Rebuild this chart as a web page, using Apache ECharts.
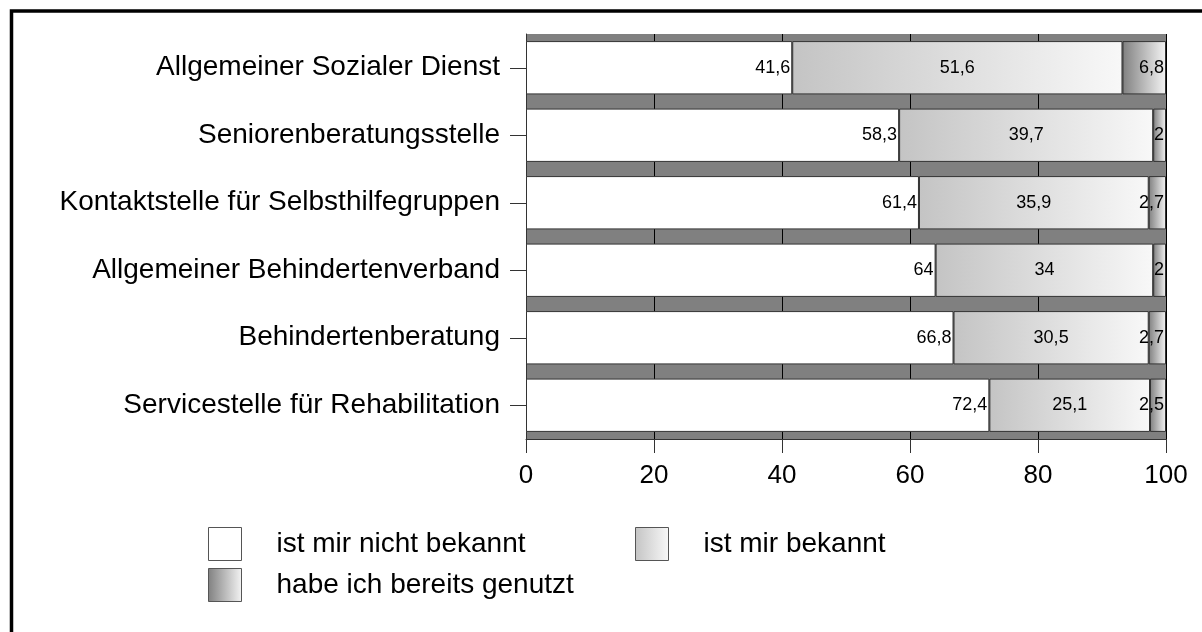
<!DOCTYPE html>
<html>
<head>
<meta charset="utf-8">
<script src="https://cdn.jsdelivr.net/npm/echarts@6/dist/echarts.min.js"></script>
<style>
  html, body { margin: 0; padding: 0; background: #fff; }
  #main { width: 1202px; height: 632px; }
</style>
</head>
<body>
<div id="main"></div>
<script>
var myChart = echarts.init(document.getElementById('main'));

// Einrichtungen (von oben nach unten)
var categories = [
    'Allgemeiner Sozialer Dienst',
    'Seniorenberatungsstelle',
    'Kontaktstelle für Selbsthilfegruppen',
    'Allgemeiner Behindertenverband',
    'Behindertenberatung',
    'Servicestelle für Rehabilitation'
];
var nichtBekannt = [41.6, 58.3, 61.4, 64, 66.8, 72.4];
var bekannt = [51.6, 39.7, 35.9, 34, 30.5, 25.1];
var genutzt = [6.8, 2, 2.7, 2, 2.7, 2.5];
var xTicks = [0, 20, 40, 60, 80, 100];

var fontFam = '"Liberation Sans", Arial, sans-serif';

function grad(c0, c1) {
    return new echarts.graphic.LinearGradient(0, 0, 1, 0, [
        { offset: 0, color: c0 },
        { offset: 1, color: c1 }
    ]);
}

function valueLabel(pos) {
    return {
        show: true,
        position: pos,
        distance: 2,
        color: '#000',
        fontSize: 18,
        fontFamily: fontFam,
        padding: [3, 0, 0, 0],
        formatter: function (p) {
            return String(p.value).replace('.', ',');
        }
    };
}

function bar(name, data, color, labelPos) {
    return {
        name: name,
        type: 'bar',
        stack: 'all',
        data: data,
        barCategoryGap: '21%',
        itemStyle: { color: color, borderColor: '#333', borderWidth: 1 },
        label: valueLabel(labelPos),
        emphasis: { disabled: true }
    };
}

function legendAt(name, left, top) {
    return {
        data: [name],
        left: left,
        top: top,
        itemWidth: 33,
        itemHeight: 33,
        itemGap: 0,
        icon: 'rect',
        textStyle: { fontSize: 28, fontFamily: fontFam, color: '#000', padding: [4, 0, 0, 30] },
        selectedMode: false,
        itemStyle: { borderColor: '#555', borderWidth: 1 }
    };
}

option = {
    animation: false,
    backgroundColor: '#fff',
    grid: {
        left: 526,
        right: 36,
        top: 34,
        height: 405,
        show: true,
        backgroundColor: '#808080',
        borderWidth: 0
    },
    legend: [
        legendAt('ist mir nicht bekannt', 203, 522),
        legendAt('ist mir bekannt', 630, 522),
        legendAt('habe ich bereits genutzt', 203, 563)
    ],
    xAxis: {
        type: 'value',
        min: xTicks[0],
        max: xTicks[xTicks.length - 1],
        interval: 20,
        axisLine: { show: true, lineStyle: { color: '#333' } },
        axisTick: { show: true, length: 14, lineStyle: { color: '#333' } },
        splitLine: { show: true, lineStyle: { color: '#000', width: 1 } },
        axisLabel: { margin: 24, fontSize: 26, fontFamily: fontFam, color: '#000' }
    },
    yAxis: {
        type: 'category',
        inverse: true,
        data: categories,
        axisLine: { show: true, lineStyle: { color: '#333' } },
        axisTick: { show: true, alignWithLabel: true, length: 16, lineStyle: { color: '#333' } },
        axisLabel: { margin: 26, fontSize: 28, fontFamily: fontFam, color: '#000' }
    },
    series: [
        bar('ist mir nicht bekannt', nichtBekannt, '#ffffff', 'insideRight'),
        bar('ist mir bekannt', bekannt, grad('#c4c4c4', '#f8f8f8'), 'inside'),
        bar('habe ich bereits genutzt', genutzt, grad('#808080', '#f4f4f4'), 'insideRight')
    ],
    graphic: [
        {
            type: 'rect',
            silent: true,
            shape: { x: 11.5, y: 11, width: 1400, height: 900 },
            style: { fill: null, stroke: '#000', lineWidth: 3.5 }
        }
    ]
};

myChart.setOption(option);
</script>
</body>
</html>
